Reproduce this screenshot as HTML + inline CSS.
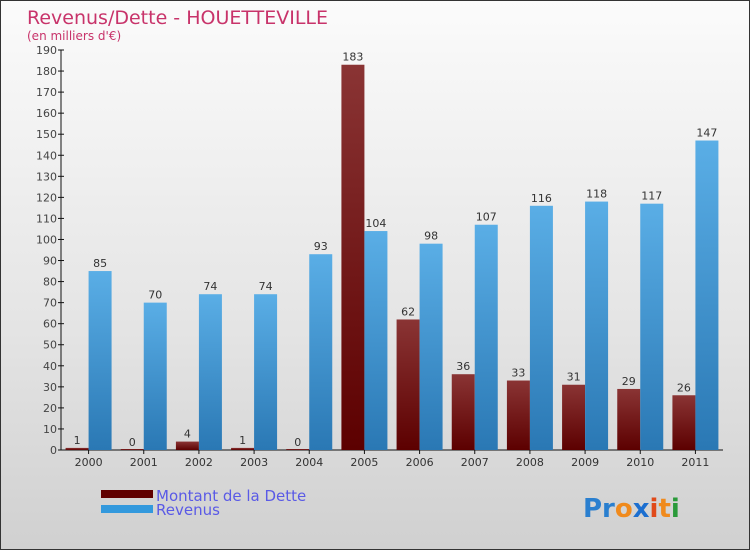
<!DOCTYPE html>
<html><head><meta charset="utf-8"><style>
body{margin:0}
#wrap{position:relative;width:748px;height:548px;border:1px solid #333;background:linear-gradient(#fbfbfb,#e4e4e4 60%,#d0d0d0);font-family:"DejaVu Sans","Liberation Sans",sans-serif;overflow:hidden}
svg text{font-family:"DejaVu Sans","Liberation Sans",sans-serif}
</style></head><body>
<div id="wrap">
<svg id="c" width="748" height="548">
<defs>
<linearGradient id="gd" x1="0" x2="0" y1="0" y2="1"><stop offset="0" stop-color="#8a3434"/><stop offset="1" stop-color="#5c0000"/></linearGradient>
<linearGradient id="gr" x1="0" x2="0" y1="0" y2="1"><stop offset="0" stop-color="#5aaee6"/><stop offset="1" stop-color="#2a78b4"/></linearGradient>
</defs>
<text x="26" y="23" font-size="19" fill="#c8336a">Revenus/Dette - HOUETTEVILLE</text>
<text x="26" y="39" font-size="12" fill="#c8336a">(en milliers d'€)</text>
<g id="axes"></g><g id="bars"></g>
<rect x="100" y="489" width="52" height="8" fill="#600000"/>
<text x="155" y="500" font-size="15" fill="#5a5ae6">Montant de la Dette</text>
<rect x="100" y="504" width="52" height="8" fill="#3399dd"/>
<text x="155" y="514" font-size="15" fill="#5a5ae6">Revenus</text>
<text x="582" y="516" font-size="26" font-weight="bold"><tspan fill="#2a7fcf">Pr</tspan><tspan fill="#f08a1c">o</tspan><tspan fill="#1c6fd0">x</tspan><tspan fill="#e04a1a">i</tspan><tspan fill="#f08a1c">t</tspan><tspan fill="#2a9a3a">i</tspan></text>
</svg>
</div>
<script>
const years=["2000","2001","2002","2003","2004","2005","2006","2007","2008","2009","2010","2011"];
const dette=[1,0,4,1,0,183,62,36,33,31,29,26];
const revenus=[85,70,74,74,93,104,98,107,116,118,117,147];
const ticks=[0,10,20,30,40,50,60,70,80,90,100,110,120,130,140,150,160,170,180,190];
const NS="http://www.w3.org/2000/svg";
const y0=449,yTop=49,maxV=190,x0=60,x1=722;
const y=v=>y0-v*(y0-yTop)/maxV;
const step=(x1-x0)/years.length;
const cx=i=>x0+step*(i+0.5);
function mk(t,a,p){const e=document.createElementNS(NS,t);for(const k in a)e.setAttribute(k,a[k]);p.appendChild(e);return e;}
const ax=document.getElementById('axes'),bg=document.getElementById('bars');
let l=mk('line',{x1:x0,x2:x0,y1:yTop,y2:y0,stroke:'#111'},ax);


l=mk('line',{x1:x0,x2:x1,y1:y0,y2:y0,stroke:'#111'},ax);


ticks.forEach(t=>{
 const tk=mk('line',{x1:x0-3,x2:x0+3,y1:y(t),y2:y(t),stroke:'#111'},ax);
 
 
 const tx=mk('text',{x:x0-4,y:y(t)+4,'font-size':11,fill:'#444','text-anchor':'end'},ax);
 tx.textContent=t;
 
 
});
years.forEach((yr,i)=>{
 const c=cx(i);
 const tk=mk('line',{x1:c,x2:c,y1:y0,y2:y0+4,stroke:'#111'},ax);
 
 
 const tx=mk('text',{x:c,y:y0+16,'font-size':11,fill:'#333','text-anchor':'middle'},ax);
 tx.textContent=yr;
 
 
 const hd=Math.max(1,y0-y(dette[i]));
 const b1=mk('rect',{x:c-23,y:y0-hd,width:23,height:hd,fill:'url(#gd)'},bg);
 
 
 const t1=mk('text',{x:c-11.5,y:y(dette[i])-4,'font-size':11,fill:'#333','text-anchor':'middle'},bg);
 t1.textContent=dette[i];
 
 
 const b2=mk('rect',{x:c,y:y(revenus[i]),width:23,height:y0-y(revenus[i]),fill:'url(#gr)'},bg);
 
 
 const t2=mk('text',{x:c+11.5,y:y(revenus[i])-4,'font-size':11,fill:'#333','text-anchor':'middle'},bg);
 t2.textContent=revenus[i];
 
 
});
</script>
</body></html>
